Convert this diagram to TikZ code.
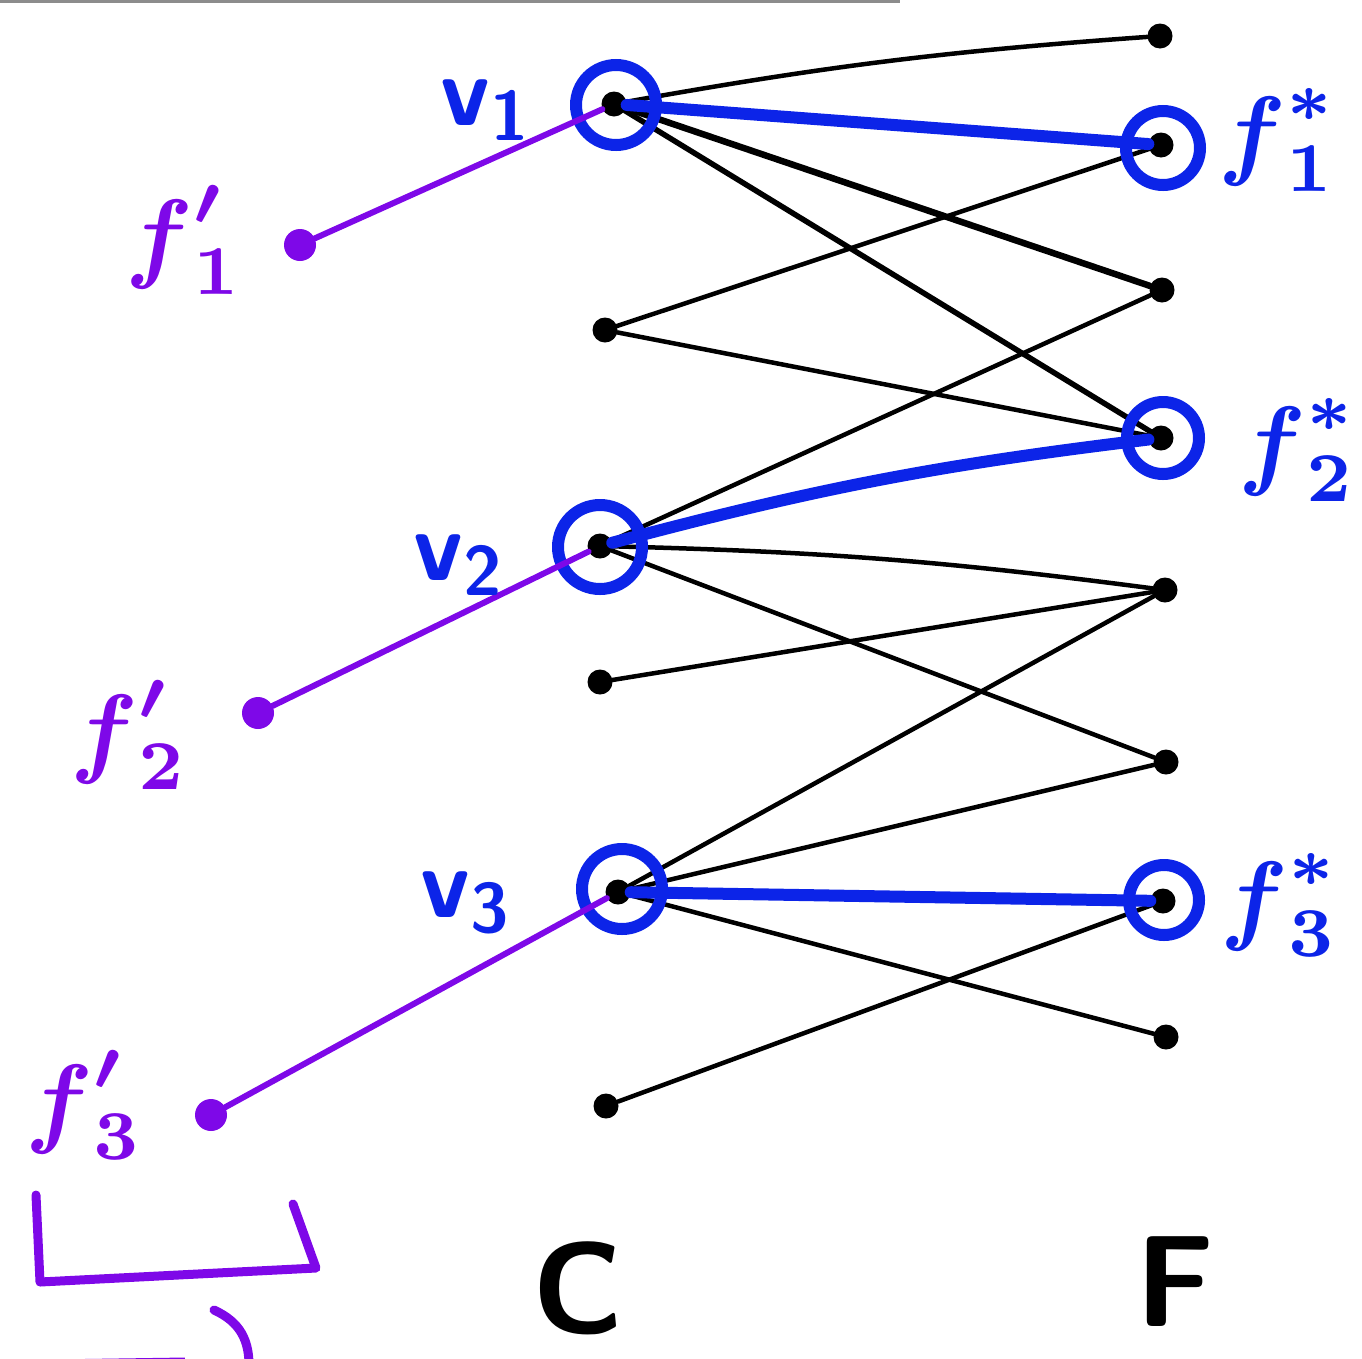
\documentclass[tikz,border=0pt]{standalone}
\usepackage{amsmath}
\definecolor{penblue}{RGB}{12,36,232}
\definecolor{penviolet}{RGB}{126,8,232}
\newcommand{\vlab}[1]{\sffamily\bfseries v\textsubscript{#1}}
\newcommand{\fstar}[1]{$\boldsymbol{f}_{\boldsymbol{#1}}^{\boldsymbol{\ast}}$}
\newcommand{\fprime}[1]{$\boldsymbol{f}_{\boldsymbol{#1}}^{\boldsymbol{\prime}}$}

\begin{document}
\begin{tikzpicture}[x=1pt,y=-1pt,
  dot/.style={circle,fill=black,inner sep=0pt,minimum size=25pt},
  pdot/.style={circle,fill=penviolet,inner sep=0pt,minimum size=32pt},
  ring/.style={circle,draw=penblue,line width=12pt,inner sep=0pt,minimum size=#1},
  lbl/.style={scale=10,inner sep=0pt},
  wire/.style={line width=4.5pt,line cap=round},
  matched/.style={draw=penblue,line width=12pt,line cap=round},
  assign/.style={draw=penviolet,line width=6pt,line cap=round}]
  \useasboundingbox (0,0) rectangle (1362,1358);
  \clip (0,0) rectangle (1362,1358);
  \draw[black!45,line width=3pt] (0,1) -- (900,1);
  % side C
  \node[dot] (v1) at (614,104) {};
  \node[dot] (c2) at (605,330) {};
  \node[dot] (v2) at (600,546) {};
  \node[dot] (c4) at (600,682) {};
  \node[dot] (v3) at (618,892) {};
  \node[dot] (c6) at (606,1106) {};
  % side F
  \node[dot] (u1) at (1160,36) {};
  \node[dot] (s1) at (1161,145) {};
  \node[dot] (u3) at (1162,290) {};
  \node[dot] (s2) at (1161,438) {};
  \node[dot] (u5) at (1165,590) {};
  \node[dot] (u6) at (1166,762) {};
  \node[dot] (s3) at (1163,901) {};
  \node[dot] (u8) at (1166,1037) {};
  % the f' copies
  \node[pdot] (p1) at (300,245) {};
  \node[pdot] (p2) at (258,713) {};
  \node[pdot] (p3) at (211,1115) {};
  % graph edges
  \draw[wire] (v1) to[bend left=3] (u1);
  \draw[wire,line width=6.5pt] (v1) -- (u3);
  \draw[wire,line width=5.5pt] (v1) -- (s2);
  \draw[wire] (c2) -- (s1);
  \draw[wire] (c2) -- (s2);
  \draw[wire] (v2) -- (u3);
  \draw[wire] (v2) to[bend left=3] (u5);
  \draw[wire] (v2) -- (u6);
  \draw[wire] (c4) -- (u5);
  \draw[wire] (v3) -- (u5);
  \draw[wire] (v3) -- (u6);
  \draw[wire] (v3) -- (u8);
  \draw[wire] (c6) -- (s3);
  % matching
  \draw[matched] (v1) -- (s1);
  \draw[matched] (v2) to[bend left=4] (s2);
  \draw[matched] (v3) -- (s3);
  \node[ring=80pt] (r1) at (616,105) {};
  \node[ring=84pt] (r2) at (600,547) {};
  \node[ring=80pt] (r3) at (622,889) {};
  \node[ring=74pt] (q1) at (1163,148) {};
  \node[ring=72pt] (q2) at (1163,438) {};
  \node[ring=70pt] (q3) at (1164,900) {};
  \draw[assign] (p1) -- (v1);
  \draw[assign] (p2) -- (v2);
  \draw[assign] (p3) -- (v3);
  % labels
  \node[lbl,text=penblue] (lv1) at (487,110) {\vlab{1}};
  \node[lbl,text=penblue] (lv2) at (460,565) {\vlab{2}};
  \node[lbl,text=penblue] (lv3) at (467,903) {\vlab{3}};
  \node[lbl,text=penblue] (ls1) at (1278,140) {\fstar{1}};
  \node[lbl,text=penblue] (ls2) at (1298,450) {\fstar{2}};
  \node[lbl,text=penblue] (ls3) at (1280,905) {\fstar{3}};
  \node[lbl,text=penviolet] (lp1) at (185,240) {\fprime{1}};
  \node[lbl,text=penviolet] (lp2) at (130,735) {\fprime{2}};
  \node[lbl,text=penviolet] (lp3) at (85,1105) {\fprime{3}};
  \node[scale=13,inner sep=0pt] (lc) at (578,1288) {\sffamily\bfseries C};
  \node[scale=13,inner sep=0pt] (lf) at (1175,1282) {\sffamily\bfseries F};
  % bracket under the copies
  \draw[penviolet,line width=9pt,line cap=round,line join=round]
    (36,1195) -- (40,1282) -- (316,1268) -- (293,1204);
  \draw[penviolet,line width=9pt,line cap=round]
    (214,1310) .. controls (240,1322) and (250,1340) .. (249,1370);
  \draw[penviolet,line width=9pt] (50,1364) -- (185,1362);
\end{tikzpicture}
\end{document}
